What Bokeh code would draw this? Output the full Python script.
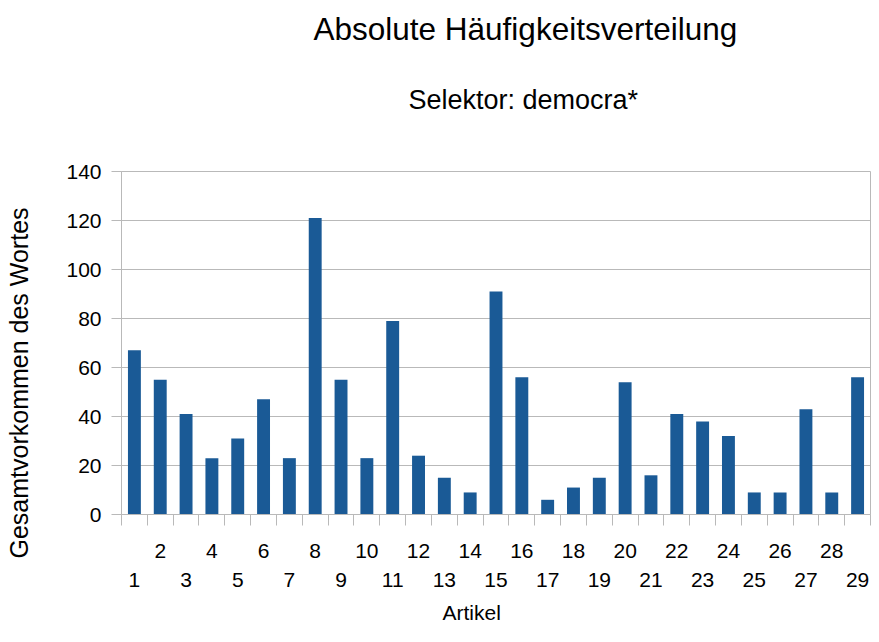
from bokeh.plotting import figure
from bokeh.models import Range1d, FixedTicker, LinearAxis, Title, ColumnDataSource
from bokeh.embed import file_html
from bokeh.resources import INLINE

# data
articles = list(range(1, 30))
counts = [67, 55, 41, 23, 31, 47, 23, 121, 55, 23, 79, 24, 15, 9, 91,
          56, 6, 11, 15, 54, 16, 41, 38, 32, 9, 9, 43, 9, 56]
even_ticks = [a for a in articles if a % 2 == 0]
odd_ticks = [a for a in articles if a % 2 == 1]
y_ticks = [0, 20, 40, 60, 80, 100, 120, 140]
title_text = "Absolute Häufigkeitsverteilung"
subtitle_text = "Selektor: democra*"
x_label = "Artikel"
y_label = "Gesamtvorkommen des Wortes"

FONT = "Liberation Sans"
GRID = "#b9b9b9"
BAR = "#1a5a96"

src = ColumnDataSource(dict(x=articles, top=counts))

p = figure(width=871, height=634, output_backend="svg", toolbar_location=None,
           x_range=Range1d(0.5, len(articles) + 0.5), y_range=Range1d(0, 140),
           x_axis_location=None, y_axis_location=None,
           min_border_left=120, min_border_right=1, min_border_top=171,
           min_border_bottom=120)
p.title = None
p.outline_line_color = GRID
p.background_fill_color = "white"
p.border_fill_color = "white"

p.vbar(x="x", top="top", width=0.5, source=src, fill_color=BAR, line_color=None)

# y axis
yax = LinearAxis(ticker=FixedTicker(ticks=y_ticks))
yax.axis_line_color = GRID
yax.major_tick_line_color = GRID
yax.major_tick_out = 10
yax.major_tick_in = 0
yax.minor_tick_line_color = None
yax.major_label_text_font = FONT
yax.major_label_text_font_size = "21px"
yax.major_label_text_color = "black"
yax.major_label_standoff = 10
p.add_layout(yax, "left")

p.ygrid.grid_line_color = GRID
p.ygrid.ticker = FixedTicker(ticks=y_ticks)
p.xgrid.grid_line_color = None

# x axis, even labels (upper row)
bounds = [a - 0.5 for a in articles] + [articles[-1] + 0.5]
xa = LinearAxis(ticker=FixedTicker(ticks=even_ticks, minor_ticks=bounds))
xa.axis_line_color = GRID
xa.major_tick_line_color = None
xa.major_tick_out = 0
xa.major_tick_in = 0
xa.minor_tick_line_color = GRID
xa.minor_tick_out = 11
xa.minor_tick_in = 0
xa.major_label_text_font = FONT
xa.major_label_text_font_size = "21px"
xa.major_label_text_color = "black"
xa.major_label_standoff = 18
p.add_layout(xa, "below")

# x axis, odd labels (lower row)
xb = LinearAxis(ticker=FixedTicker(ticks=odd_ticks, minor_ticks=[]))
xb.axis_line_color = None
xb.major_tick_line_color = None
xb.major_tick_out = 0
xb.major_tick_in = 0
xb.minor_tick_line_color = None
xb.major_label_text_font = FONT
xb.major_label_text_font_size = "21px"
xb.major_label_text_color = "black"
xb.major_label_standoff = 12
p.add_layout(xb, "below")


def title(text, size, standoff, offset=0, align="left"):
    return Title(text=text, align=align, offset=offset, standoff=standoff,
                 text_font=FONT, text_font_size=size, text_font_style="normal",
                 text_color="black")


# top: spacer (nearest frame), subtitle, main title
p.add_layout(title(" ", "1px", 26), "above")
p.add_layout(title(subtitle_text, "27px", 56, offset=287), "above")
p.add_layout(title(title_text, "31.5px", 16, offset=192), "above")

# left: spacer next to the axis, then the axis title
p.add_layout(title(" ", "1px", 26), "left")
p.add_layout(title(y_label, "25px", 4, offset=-44), "left")

# below: x axis title
p.add_layout(title(x_label, "21px", 18, offset=321), "below")

open("out.html", "w").write(file_html(p, INLINE))
